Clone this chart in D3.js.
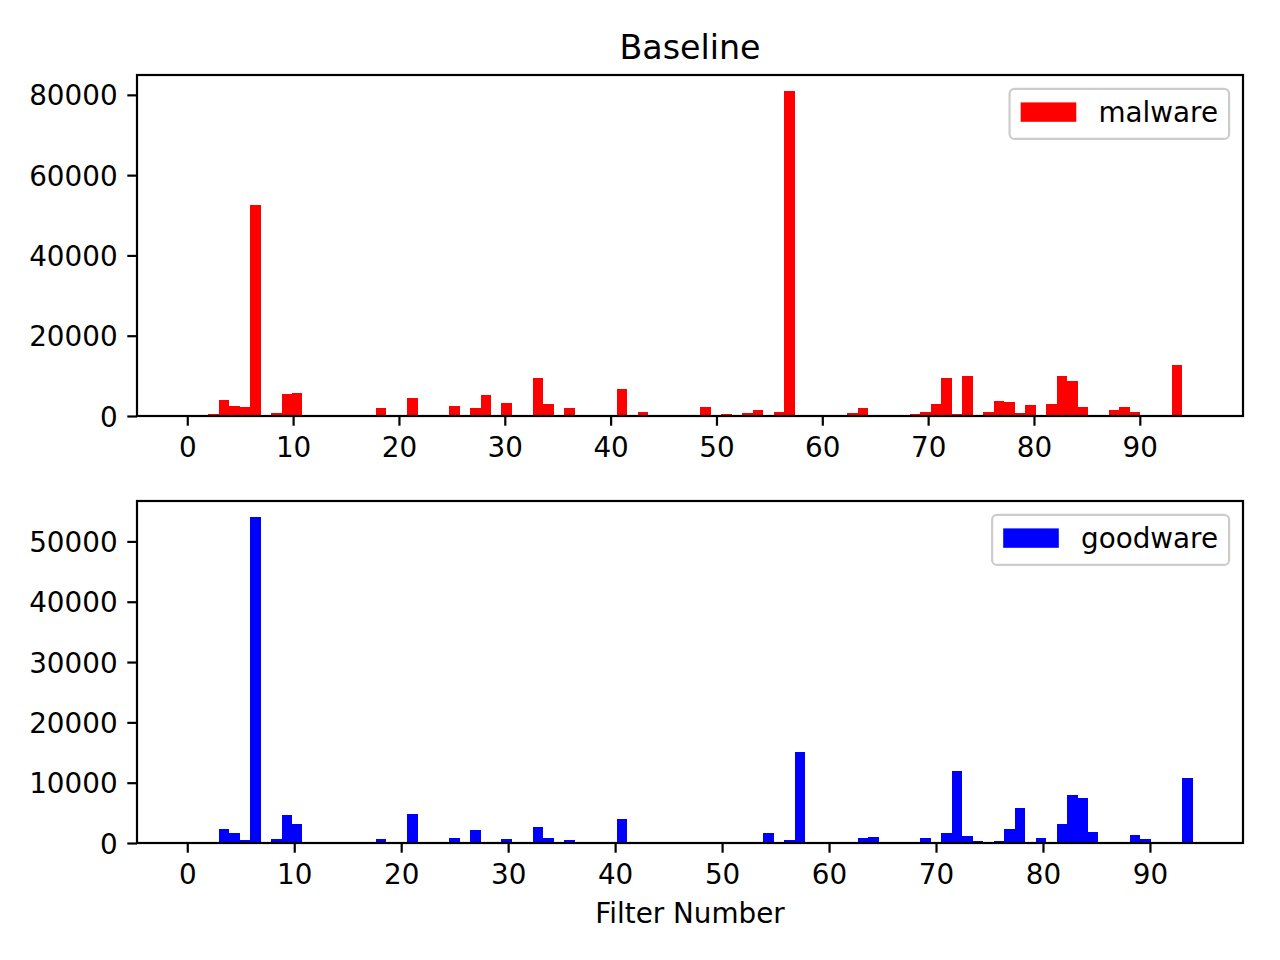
<!DOCTYPE html>
<html>
<head>
<meta charset="utf-8">
<script src="https://cdn.jsdelivr.net/npm/d3@7"></script>
<style>
  html, body { margin: 0; padding: 0; background: #fff; }
  svg { display: block; }
  text { font-family: "DejaVu Sans", sans-serif; fill: #000; }
</style>
</head>
<body>
<svg id="chart" width="1280" height="960"></svg>
<script>
// ---- data ----
const chartTitle = "Baseline";
const xLabel = "Filter Number";
const binCount = 96;
const malwareRange = [0, 95];
const goodwareRange = [0, 94];
const malwareCounts = [
  300, 0, 500, 4000, 2500, 2250, 52600, 0, 750, 5500,
  5750, 0, 0, 0, 0, 0, 0, 0, 2000, 0,
  0, 4500, 0, 0, 0, 2500, 0, 2000, 5250, 250,
  3250, 0, 0, 9500, 3000, 0, 2000, 0, 0, 0,
  0, 6750, 250, 1000, 0, 0, 0, 250, 0, 2250,
  0, 500, 250, 750, 1500, 0, 1000, 80900, 0, 0,
  0, 0, 0, 750, 2000, 250, 0, 0, 250, 500,
  1000, 3000, 9500, 500, 10000, 0, 1000, 3750, 3500, 750,
  2750, 0, 3000, 10000, 8750, 2250, 250, 0, 1500, 2250,
  1000, 0, 0, 0, 12700, 0
];
const goodwareCounts = [
  0, 0, 0, 2330, 1660, 500, 54000, 0, 665, 4650,
  3160, 0, 0, 0, 0, 0, 0, 0, 665, 0,
  0, 4820, 0, 0, 0, 830, 0, 2160, 0, 0,
  665, 0, 0, 2660, 830, 0, 500, 0, 0, 0,
  0, 3990, 0, 0, 0, 0, 0, 0, 0, 0,
  166, 0, 166, 0, 166, 1660, 0, 500, 15100, 0,
  0, 0, 0, 0, 830, 1000, 0, 0, 0, 0,
  830, 166, 1660, 11900, 1160, 330, 0, 330, 2330, 5820,
  0, 830, 0, 3160, 7980, 7480, 1830, 0, 0, 166,
  1330, 665, 0, 0, 0, 10700
];
const xTicks = [0, 10, 20, 30, 40, 50, 60, 70, 80, 90];
const malwareYTicks = [0, 20000, 40000, 60000, 80000];
const goodwareYTicks = [0, 10000, 20000, 30000, 40000, 50000];

// ---- layout ----
const svg = d3.select("#chart");
const W = 1280;
const left = 137, right = 1243;
const fs = 27.8;
const tickLen = 9.7, tickPad = 9.7, lw = 2.2;

svg.append("rect").attr("width", W).attr("height", 960).attr("fill", "#fff");

svg.append("text")
  .attr("x", (left + right) / 2).attr("y", 59)
  .attr("text-anchor", "middle")
  .style("font-size", "33.3px")
  .text(chartTitle);

function panel(cfg) {
  const { top, bottom, counts, range, color, yTicks, label } = cfg;
  const span = range[1] - range[0];
  const x = d3.scaleLinear()
    .domain([range[0] - 0.05 * span, range[1] + 0.05 * span])
    .range([left, right]);
  const y = d3.scaleLinear()
    .domain([0, d3.max(counts) * 1.05])
    .range([bottom, top]);
  const bw = span / binCount;
  const bins = counts.map((c, i) => ({ x0: range[0] + i * bw, x1: range[0] + (i + 1) * bw, c }));

  const g = svg.append("g");
  g.selectAll("rect.bar").data(bins.filter(d => d.c > 0)).join("rect")
    .attr("class", "bar")
    .attr("x", d => x(d.x0))
    .attr("width", d => x(d.x1) - x(d.x0))
    .attr("y", d => y(d.c))
    .attr("height", d => y(0) - y(d.c))
    .attr("fill", color)
    .attr("shape-rendering", "crispEdges");

  // x axis
  const xAxis = d3.axisBottom(x).tickValues(xTicks).tickSize(tickLen).tickPadding(tickPad).tickFormat(d3.format("d"));
  const gx = g.append("g").attr("transform", `translate(0,${bottom})`).call(xAxis);
  gx.select(".domain").remove();
  gx.selectAll(".tick line").attr("stroke", "#000").attr("stroke-width", lw);
  gx.selectAll(".tick text").style("font-size", fs + "px").attr("dy", null).attr("y", 41).attr("fill", "#000");

  // y axis
  const yAxis = d3.axisLeft(y).tickValues(yTicks).tickSize(tickLen).tickPadding(tickPad).tickFormat(d3.format("d"));
  const gy = g.append("g").attr("transform", `translate(${left},0)`).call(yAxis);
  gy.select(".domain").remove();
  gy.selectAll(".tick line").attr("stroke", "#000").attr("stroke-width", lw);
  gy.selectAll(".tick text").style("font-size", fs + "px").attr("dy", "0.36em").attr("fill", "#000");

  // frame
  g.append("rect")
    .attr("x", left).attr("y", top)
    .attr("width", right - left).attr("height", bottom - top)
    .attr("fill", "none").attr("stroke", "#000").attr("stroke-width", lw);

  // legend
  const lg = g.append("g");
  const txt = lg.append("text").style("font-size", fs + "px").text(label);
  const tw = txt.node().getComputedTextLength();
  const pad = 11.1, hl = 55.6, htp = 22.2;
  const boxW = pad + hl + htp + tw + pad;
  const boxH = 50;
  const bx = right - 13.9 - boxW, by = top + 13.9;
  lg.insert("rect", "text")
    .attr("x", bx).attr("y", by).attr("width", boxW).attr("height", boxH)
    .attr("rx", 5).attr("ry", 5)
    .attr("fill", "rgba(255,255,255,0.8)").attr("stroke", "#cccccc").attr("stroke-width", lw);
  lg.insert("rect", "text")
    .attr("x", bx + pad).attr("y", by + 13.5).attr("width", hl).attr("height", 19.4)
    .attr("fill", color);
  txt.attr("x", bx + pad + hl + htp).attr("y", by + 33.5);
}

panel({ top: 75, bottom: 416, counts: malwareCounts, range: malwareRange, color: "#ff0000", yTicks: malwareYTicks, label: "malware" });
panel({ top: 501, bottom: 843, counts: goodwareCounts, range: goodwareRange, color: "#0000ff", yTicks: goodwareYTicks, label: "goodware" });

svg.append("text")
  .attr("x", (left + right) / 2).attr("y", 923)
  .attr("text-anchor", "middle")
  .style("font-size", fs + "px")
  .text(xLabel);
</script>
</body>
</html>
